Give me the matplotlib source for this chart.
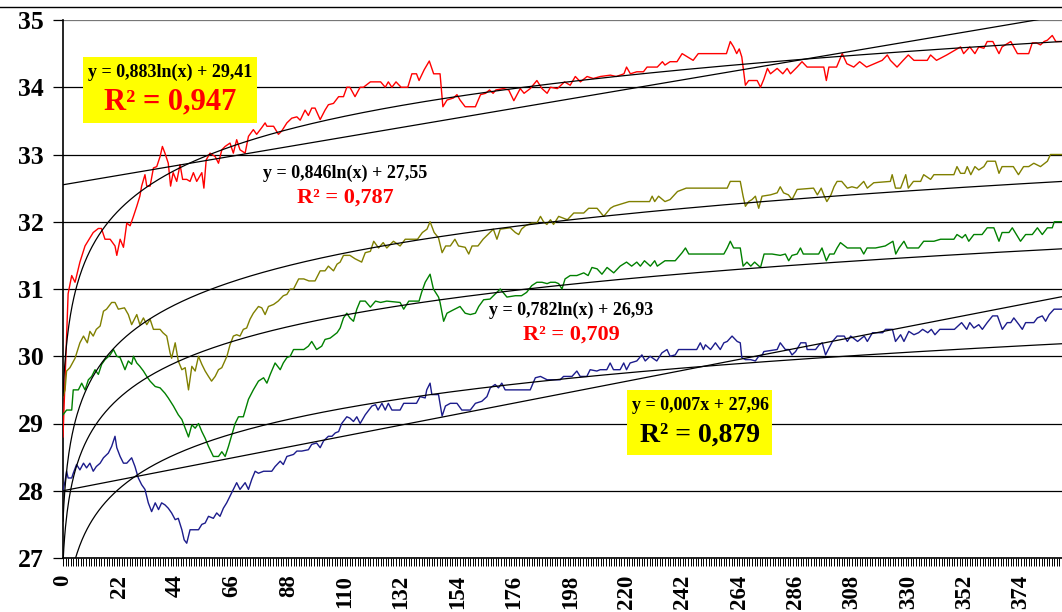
import numpy as np
import matplotlib
matplotlib.use("Agg")
import matplotlib.pyplot as plt
from matplotlib.ticker import MultipleLocator
from matplotlib.patches import Rectangle
from matplotlib.lines import Line2D

# ---------------- data ----------------
red_x = [0, 2, 3.4, 4.7, 6.6, 8.6, 10.5, 11.8, 13.8, 15, 16.4, 18.4, 20.3, 21, 22.3, 23.6, 24.9, 26.2, 27.5, 28.8,
         30, 30.7, 32, 32.7, 34, 35.3, 36.6, 37.9, 38.8, 39.8, 41.1, 42, 43, 44.4, 45.7, 46.7, 48.3, 49.6, 50.9, 52.2,
         54.2, 55, 55.9, 57.4, 59.4, 60.7, 62, 63.3, 65.2, 66.5, 67.8, 69.1, 71.1, 72.4, 74.3, 75.6, 77.6, 78.9, 79.6,
         82.2, 84.1, 85.4, 87.4, 89.3, 91.3, 92.6, 94.5, 95.8, 97.1, 98.4, 100.4, 102.3, 103.6, 105.6, 107.6, 109.5,
         110.8, 112, 114, 116, 117.3, 120, 124, 125.8, 127, 128.4, 130, 132, 134.6, 136.2, 138, 139, 141, 143, 144.7,
         147.2, 148.3, 149.9, 152.4, 153.8, 155, 157, 161, 163, 165, 166.5, 167.9, 169, 172, 174, 176, 178.5, 180,
         182.4, 185, 187, 189, 190.3, 193, 195.8, 198, 200, 202, 204.6, 207, 209.8, 213.7, 216, 219, 220, 221.5, 224,
         226.6, 228, 232, 234, 235, 237, 239.7, 241.7, 246, 248, 252.7, 259, 260.5, 261.8, 263, 264, 265, 266.4, 267.7,
         271, 272.3, 273.6, 275, 276.2, 278.8, 281, 282.7, 284, 286.6, 288.5, 290.5, 297, 298, 299, 302, 304.2, 306,
         308.7, 311, 313.7, 319.8, 321.8, 323, 325.6, 328, 330, 332.2, 337.4, 338.7, 341, 345, 350.4, 351.6, 354, 356,
         357.5, 359.5, 360.8, 363, 365.4, 366.6, 370, 372.6, 377, 378.4, 380, 381.6, 383, 384.3, 386.2, 387.6, 390]
red_y = [28.8, 30.93, 31.2, 31.1, 31.4, 31.64, 31.76, 31.84, 31.9, 31.9, 31.74, 31.74, 31.64, 31.5, 31.74, 31.62, 31.98,
         31.94, 32.08, 32.23, 32.38, 32.53, 32.7, 32.53, 32.53, 32.8, 32.82, 32.97, 33.12, 33.02, 32.87, 32.53, 32.73,
         32.6, 32.85, 32.63, 32.63, 32.6, 32.73, 32.6, 32.73, 32.5, 32.92, 33.02, 32.97, 32.87, 33.07, 33.12, 33.17,
         33.02, 33.22, 33.07, 33.02, 33.27, 33.37, 33.3, 33.4, 33.47, 33.42, 33.42, 33.3, 33.35, 33.47, 33.54, 33.56,
         33.51, 33.66, 33.58, 33.69, 33.69, 33.52, 33.66, 33.74, 33.76, 33.86, 33.86, 34.0, 34.0, 33.86, 34.0, 34.0,
         34.08, 34.08, 34.0, 34.08, 34.0, 34.08, 34.0, 34.0, 34.2, 34.2, 34.1, 34.26, 34.39, 34.2, 34.2, 33.71, 33.81,
         33.84, 33.89, 33.81, 33.71, 33.71, 33.89, 33.91, 33.96, 33.91, 33.96, 33.98, 33.96, 33.8, 33.98, 33.91, 33.98,
         34.1, 33.98, 33.91, 34.0, 33.98, 34.08, 34.03, 34.16, 34.08, 34.16, 34.13, 34.16, 34.18, 34.16, 34.2, 34.3,
         34.2, 34.23, 34.23, 34.3, 34.3, 34.38, 34.33, 34.38, 34.38, 34.5, 34.4, 34.5, 34.5, 34.5, 34.68, 34.6, 34.5,
         34.57, 34.45, 34.03, 34.1, 34.1, 34.0, 34.12, 34.28, 34.2, 34.28, 34.2, 34.28, 34.2, 34.3, 34.38, 34.3, 34.3,
         34.1, 34.3, 34.3, 34.5, 34.35, 34.3, 34.38, 34.3, 34.4, 34.48, 34.4, 34.3, 34.4, 34.48, 34.4, 34.4, 34.48,
         34.4, 34.48, 34.6, 34.5, 34.6, 34.5, 34.6, 34.58, 34.68, 34.68, 34.5, 34.6, 34.68, 34.5, 34.5, 34.66, 34.66,
         34.63, 34.68, 34.7, 34.77, 34.68, 34.68]

olive_x = [0, 0.8, 1.4, 2.7, 4.7, 6.6, 8, 9.5, 10.5, 11.8, 13, 14.5, 15.8, 17, 19, 20.3, 21.6, 24, 25.5, 26.8, 28.8, 30,
           31.4, 32.7, 34, 35.3, 37.9, 39, 40.5, 41.8, 42.4, 43.8, 45, 46.4, 47.7, 49, 50.3, 51.6, 52.9, 54.2, 55.5,
           56.8, 58, 59.4, 60.7, 62, 64, 65.2, 66.5, 67.8, 69.1, 70.4, 71.7, 73, 74.3, 76.3, 77.6, 78.9, 80.2, 82.2, 84,
           86, 87.4, 88.7, 90, 92, 94, 96, 97.1, 98.4, 100.4, 102.3, 103.6, 105.6, 107, 108.2, 109.5, 112, 114, 116.6,
           118, 120, 121.3, 123.2, 125, 126.4, 129, 131.6, 133.6, 138.4, 140.3, 142.1, 143.3, 144.9, 146.6, 148, 149.4,
           151.2, 153, 154.4, 157, 158.4, 159.7, 162, 164, 166.7, 168, 169.4, 170.7, 174.6, 176.6, 177.9, 179, 180.5,
           183, 185, 186.4, 187.6, 188.9, 190.3, 191.5, 193.5, 196.9, 199.4, 203.3, 205.2, 208.5, 211.1, 213.7, 215,
           221, 224, 229, 230, 231, 232.5, 235, 237, 239.9, 241.9, 243.3, 259.3, 260.5, 264.4, 265.5, 266.4, 267.7,
           269, 270.3, 271.6, 272.9, 276.2, 278.8, 280, 281.3, 283.2, 284.6, 286.6, 293, 294.5, 296, 297, 298.2, 299.8,
           301, 302.2, 304, 306.2, 308, 310, 312.6, 314, 316.5, 323, 323.7, 325, 327, 329, 330, 332, 334.8, 336, 338.7,
           340, 342.6, 347.8, 349, 350.4, 352, 353, 354.4, 356, 357.5, 359.5, 360.8, 364, 365.4, 366.6, 371, 373, 375,
           377, 379, 381.6, 384.3, 385.5, 390]
olive_y = [29.4, 29.5, 29.78, 29.83, 29.97, 30.2, 30.3, 30.2, 30.37, 30.3, 30.4, 30.45, 30.67, 30.7, 30.8, 30.8, 30.7,
           30.72, 30.62, 30.47, 30.62, 30.47, 30.57, 30.47, 30.55, 30.4, 30.4, 30.35, 30.3, 30.05, 29.97, 30.2, 29.93,
           29.8, 29.83, 29.5, 29.85, 29.78, 30.0, 29.88, 29.78, 29.7, 29.63, 29.7, 29.8, 29.83, 30.0, 30.17, 30.3,
           30.32, 30.3, 30.4, 30.42, 30.55, 30.64, 30.74, 30.72, 30.62, 30.74, 30.77, 30.82, 30.9, 30.92, 31.0, 31.0,
           31.15, 31.15, 31.12, 31.12, 31.12, 31.27, 31.27, 31.34, 31.27, 31.37, 31.4, 31.5, 31.5, 31.45, 31.4, 31.54,
           31.56, 31.71, 31.61, 31.69, 31.61, 31.71, 31.64, 31.74, 31.74, 31.84, 31.89, 32.0, 31.84, 31.76, 31.54,
           31.64, 31.64, 31.74, 31.64, 31.62, 31.52, 31.64, 31.64, 31.74, 31.84, 31.89, 31.74, 31.89, 31.91, 31.84,
           31.81, 31.89, 31.94, 31.98, 31.98, 32.08, 32.0, 31.96, 32.03, 31.96, 32.08, 32.03, 32.13, 32.13, 32.2, 32.2,
           32.08, 32.2, 32.23, 32.3, 32.3, 32.3, 32.38, 32.3, 32.38, 32.3, 32.33, 32.45, 32.48, 32.5, 32.5, 32.6, 32.6,
           32.38, 32.23, 32.3, 32.33, 32.38, 32.2, 32.38, 32.4, 32.43, 32.52, 32.43, 32.4, 32.33, 32.48, 32.5, 32.4,
           32.5, 32.4, 32.3, 32.4, 32.52, 32.6, 32.6, 32.5, 32.52, 32.5, 32.6, 32.5, 32.58, 32.6, 32.7, 32.5, 32.5, 32.7,
           32.5, 32.6, 32.6, 32.7, 32.63, 32.7, 32.7, 32.7, 32.82, 32.72, 32.72, 32.82, 32.7, 32.82, 32.77, 32.82, 32.9,
           32.9, 32.72, 32.82, 32.82, 32.7, 32.82, 32.82, 32.87, 32.82, 32.9, 33.0, 33.0]

green_x = [0, 1.4, 3.4, 4, 6, 7.3, 8.6, 9.9, 11.2, 12.5, 13.8, 15.1, 16.4, 18.4, 19.7, 21, 22.3, 24.2, 25.5, 26.8, 27.5,
           28.8, 30, 31.4, 32.7, 34, 36, 37.9, 39.8, 41.1, 43.1, 45, 46.4, 47.7, 49, 50.3, 51.6, 52.9, 54.2, 55.5, 56.8,
           58.7, 60.7, 62, 63.3, 64.6, 65.9, 67.2, 68.5, 70.4, 72.4, 74.3, 76.3, 78.3, 79.6, 80.9, 82.8, 84.8, 86, 87.4,
           88.7, 90, 92, 94, 95.8, 97.1, 99, 101, 102.3, 104.3, 107, 108.2, 109.5, 110.8, 112, 113.4, 114.7, 116, 118,
           120, 122, 124, 126.4, 131.6, 133, 135, 139, 140, 141.4, 143.3, 144.6, 146.6, 147.2, 148.6, 149.9, 152.4, 155,
           157, 159, 161, 162.3, 164.2, 166.7, 169.4, 170.7, 173.3, 176.6, 179, 181, 183, 185, 187, 189, 190.3, 192.2,
           193.5, 194.8, 196, 198, 200.6, 203.3, 205, 206.5, 208.5, 210.4, 212.4, 215, 217.5, 220, 222, 224, 225.4, 227,
           229.3, 231, 232, 235, 239, 241.7, 243, 244.3, 246, 258, 259.3, 260.5, 261.8, 264.4, 265.5, 267, 268.5, 270,
           272.3, 273.7, 276.8, 280, 282, 283.3, 284.6, 286.6, 287.9, 289, 295, 296.3, 298, 299.3, 301, 302.2, 303.5,
           306.2, 311.3, 312.6, 313.9, 317.2, 321, 324, 325.1, 326.4, 328.3, 329.6, 334, 336, 340, 342.6, 347.8, 349,
           351, 352.3, 353.6, 355.6, 358.8, 360.8, 363.4, 365.4, 366.6, 369.3, 370.6, 372.5, 373.8, 375.8, 378.4, 380.4,
           382.3, 384.3, 386.2, 387, 390]
green_y = [29.13, 29.2, 29.2, 29.5, 29.5, 29.6, 29.5, 29.65, 29.7, 29.8, 29.73, 29.88, 29.95, 30.02, 30.1, 30.0, 29.98,
           29.8, 29.93, 29.88, 30.0, 29.9, 29.85, 29.78, 29.7, 29.63, 29.55, 29.53, 29.45, 29.38, 29.26, 29.13, 29.06,
           28.93, 28.8, 28.98, 28.93, 29.0, 28.88, 28.78, 28.66, 28.51, 28.51, 28.58, 28.51, 28.66, 28.83, 29.0, 29.1,
           29.1, 29.36, 29.5, 29.63, 29.68, 29.6, 29.73, 29.9, 29.8, 29.9, 29.98, 30.0, 30.1, 30.1, 30.1, 30.15, 30.22,
           30.1, 30.15, 30.25, 30.27, 30.35, 30.42, 30.57, 30.64, 30.57, 30.52, 30.7, 30.82, 30.82, 30.73, 30.82, 30.8,
           30.82, 30.8, 30.7, 30.82, 30.82, 30.95, 31.1, 31.22, 31.0, 30.88, 30.8, 30.52, 30.64, 30.69, 30.74, 30.64,
           30.62, 30.64, 30.74, 30.84, 30.85, 30.95, 31.0, 30.88, 30.9, 30.9, 30.95, 31.05, 31.1, 31.1, 31.08, 31.1,
           31.1, 31.08, 31.0, 31.15, 31.2, 31.2, 31.24, 31.2, 31.32, 31.3, 31.22, 31.32, 31.24, 31.34, 31.4, 31.34,
           31.4, 31.34, 31.42, 31.34, 31.42, 31.34, 31.42, 31.42, 31.54, 31.61, 31.52, 31.52, 31.52, 31.61, 31.71,
           31.61, 31.61, 31.34, 31.4, 31.34, 31.4, 31.32, 31.52, 31.52, 31.5, 31.52, 31.42, 31.5, 31.52, 31.61, 31.52,
           31.52, 31.61, 31.42, 31.52, 31.52, 31.61, 31.69, 31.61, 31.61, 31.52, 31.61, 31.61, 31.64, 31.71, 31.52,
           31.61, 31.71, 31.61, 31.61, 31.71, 31.71, 31.74, 31.74, 31.81, 31.76, 31.81, 31.71, 31.81, 31.81, 31.91,
           31.91, 31.71, 31.84, 31.84, 31.91, 31.79, 31.71, 31.81, 31.81, 31.91, 31.81, 31.91, 31.91, 32.0, 32.0]

blue_x = [0, 0.8, 1.4, 2, 3.4, 4, 5.3, 6.6, 8, 9.2, 10.5, 11.8, 13, 14.5, 15.8, 17.7, 19, 20.3, 21, 22.3, 23.6, 24.9,
          26.8, 28.1, 29.4, 30.7, 32, 33.3, 34.6, 36, 37.3, 38.5, 39.8, 41.1, 42.4, 43.8, 45, 46.4, 47.3, 48.3, 49.6,
          50.9, 52.9, 54.2, 55.5, 56.8, 58.7, 60, 61.3, 62.6, 63.9, 65.2, 66.5, 67.8, 69.1, 71.1, 72.4, 73.7, 75, 76.3,
          78.3, 81.5, 82.8, 84.8, 86, 87.4, 90, 91.3, 93.2, 95.8, 97.1, 99, 100.4, 101.7, 103.6, 105, 106.3, 107.6,
          108.8, 110.8, 112, 113.4, 114.7, 116, 118, 120.6, 122, 123, 124.5, 125.8, 127, 128.4, 131.6, 133, 138, 139.4,
          141.4, 142, 143.3, 144, 146.6, 148, 149.3, 151.2, 153.8, 155.7, 159, 161, 163.5, 165.5, 166.8, 168.7, 170,
          171.3, 172.6, 174.6, 182.4, 184.4, 186.4, 189, 191.5, 194.1, 195.4, 198.7, 200.6, 201.9, 204.5, 205.8, 208.4,
          209.7, 212.3, 213.6, 214.9, 217.5, 218.9, 220, 221.4, 224, 226, 227.3, 229.2, 231.8, 233.8, 235.8, 237, 239,
          240.3, 247.4, 248.8, 250, 250.8, 252.8, 254.7, 256.6, 258, 259.3, 261.2, 263.2, 264.4, 265, 266.4, 268.4,
          270.3, 271.6, 273, 273.6, 278.8, 280, 282, 283.4, 284.6, 286, 288, 290, 290.5, 293.8, 295.2, 296.4, 297.7,
          299, 300.4, 302.2, 305, 306.2, 307.5, 310.2, 312.8, 314, 316, 320, 321.1, 323.8, 325, 327, 328.3, 330.2,
          332.2, 334, 335.6, 337.6, 339, 340.4, 342.3, 348, 350.8, 352.8, 354, 355.6, 357.5, 358.9, 360.8, 362.9,
          364.8, 366.7, 368.6, 370, 371.2, 373.2, 374.5, 375.8, 379, 380.4, 382.3, 383.6, 385, 386.9, 390]
blue_y = [28.0, 28.14, 28.29, 28.19, 28.19, 28.26, 28.39, 28.31, 28.41, 28.34, 28.41, 28.29, 28.36, 28.41, 28.49, 28.56,
          28.66, 28.81, 28.64, 28.51, 28.41, 28.41, 28.49, 28.36, 28.19, 28.09, 28.02, 27.82, 27.69, 27.82, 27.72,
          27.82, 27.79, 27.74, 27.67, 27.57, 27.59, 27.42, 27.27, 27.22, 27.42, 27.42, 27.42, 27.5, 27.52, 27.62, 27.59,
          27.67, 27.62, 27.74, 27.82, 27.92, 28.02, 28.12, 28.02, 28.12, 28.02, 28.17, 28.29, 28.26, 28.29, 28.29,
          28.36, 28.44, 28.39, 28.51, 28.54, 28.59, 28.59, 28.61, 28.69, 28.71, 28.64, 28.74, 28.81, 28.81, 28.86,
          28.88, 29.0, 29.1, 29.08, 29.03, 29.1, 29.0, 29.13, 29.26, 29.28, 29.2, 29.3, 29.2, 29.3, 29.2, 29.2, 29.3,
          29.3, 29.4, 29.38, 29.5, 29.6, 29.43, 29.43, 29.11, 29.26, 29.3, 29.3, 29.2, 29.2, 29.3, 29.33, 29.4, 29.53,
          29.58, 29.53, 29.6, 29.5, 29.5, 29.5, 29.68, 29.7, 29.65, 29.65, 29.65, 29.7, 29.7, 29.78, 29.7, 29.7, 29.8,
          29.78, 29.8, 29.8, 29.9, 29.8, 29.8, 29.9, 29.8, 29.9, 29.93, 30.02, 29.93, 30.0, 29.93, 30.05, 30.1, 30.0,
          30.02, 30.1, 30.1, 30.2, 30.1, 30.17, 30.1, 30.2, 30.1, 30.2, 30.22, 30.3, 30.22, 30.2, 29.98, 29.95, 29.95,
          29.93, 30.0, 30.02, 30.07, 30.1, 30.2, 30.1, 30.1, 30.02, 30.07, 30.2, 30.2, 30.1, 30.1, 30.17, 30.2, 30.02,
          30.12, 30.22, 30.3, 30.3, 30.22, 30.3, 30.22, 30.3, 30.22, 30.35, 30.35, 30.4, 30.4, 30.22, 30.32, 30.22,
          30.37, 30.32, 30.35, 30.4, 30.35, 30.4, 30.32, 30.4, 30.4, 30.5, 30.4, 30.5, 30.42, 30.47, 30.4, 30.5, 30.6,
          30.6, 30.4, 30.5, 30.5, 30.57, 30.47, 30.4, 30.5, 30.5, 30.57, 30.6, 30.52, 30.62, 30.7, 30.7]

# trend lines: (a, b) for y = a*ln(x) + b, with x counted from 1 at the first point
log_red = (0.883, 29.41)
log_olive = (0.846, 27.55)
log_green = (0.782, 26.93)
log_blue = (0.76, 25.65)
# linear trends y = b + m*pos (as drawn)
lin_red = (32.55, 0.00645)
lin_blue = (28.0, 0.0074)

y_ticks = [27, 28, 29, 30, 31, 32, 33, 34, 35]
x_tick_step = 22

# ---------------- plot ----------------
plt.rcParams['font.family'] = ['Liberation Serif', 'DejaVu Serif']
plt.rcParams['font.weight'] = 'bold'

fig = plt.figure(figsize=(10.62, 6.12), dpi=100)
ax = fig.add_axes([63 / 1062, 1 - 558 / 612, 1 - 63 / 1062, (558 - 20) / 612])

for yv in y_ticks:
    ax.axhline(yv, color='#777777' if yv == 35 else 'black', lw=0.9, zorder=1)

lw = 1.0
ax.plot(red_x, red_y, color='#ff0000', lw=lw, zorder=3)
ax.plot(olive_x, olive_y, color='#808000', lw=lw, zorder=3)
ax.plot(green_x, green_y, color='#008000', lw=lw, zorder=3)
ax.plot(blue_x, blue_y, color='#1c1c8c', lw=lw, zorder=3)

pos = np.linspace(0, 390, 1200)
for a, b in (log_red, log_olive, log_green, log_blue):
    ax.plot(pos, a * np.log(pos + 1) + b, color='black', lw=0.9, zorder=4)
for b, m in (lin_red, lin_blue):
    ax.plot(pos, b + m * pos, color='black', lw=0.9, zorder=4)

ax.set_xlim(0, 390)
ax.set_ylim(27, 35)
ax.set_yticks(y_ticks)
ax.xaxis.set_major_locator(MultipleLocator(x_tick_step))
ax.xaxis.set_minor_locator(MultipleLocator(1))
ax.tick_params(axis='x', which='both', direction='out', length=6, width=0.7, labelsize=16.5,
               labelrotation=90, pad=6)
ax.tick_params(axis='y', which='major', direction='out', length=7, width=0.9, labelsize=18.5, pad=7)
for lab in ax.get_xticklabels() + ax.get_yticklabels():
    lab.set_fontweight('bold')

for s in ('top', 'right'):
    ax.spines[s].set_visible(False)
ax.spines['left'].set_linewidth(1.2)
ax.spines['bottom'].set_linewidth(1.2)

# yellow boxes (axes fraction)
def afx(px):
    return (px - 63) / (1062 - 63)

def afy(py):
    return (558 - py) / (558 - 20)

ax.add_patch(Rectangle((afx(83), afy(123)), afx(257) - afx(83), afy(57) - afy(123),
                       transform=ax.transAxes, facecolor='#ffff00', edgecolor='none', zorder=6))
ax.add_patch(Rectangle((afx(627), afy(455)), afx(772) - afx(627), afy(390) - afy(455),
                       transform=ax.transAxes, facecolor='#ffff00', edgecolor='none', zorder=6))

tk = dict(transform=ax.transAxes, ha='center', va='center', fontweight='bold', zorder=7)
ax.text(afx(170), afy(72), 'y = 0,883ln(x) + 29,41', fontsize=13, color='black', **tk)
ax.text(afx(170), afy(102), 'R² = 0,947', fontsize=22, color='#ff0000', **tk)
ax.text(afx(345), afy(173), 'y = 0,846ln(x) + 27,55', fontsize=13, color='black', **tk)
ax.text(afx(345), afy(198), 'R² = 0,787', fontsize=16, color='#ff0000', **tk)
ax.text(afx(571), afy(310), 'y = 0,782ln(x) + 26,93', fontsize=13, color='black', **tk)
ax.text(afx(571), afy(335), 'R² = 0,709', fontsize=16, color='#ff0000', **tk)
ax.text(afx(700), afy(406), 'y = 0,007x + 27,96', fontsize=13, color='black', **tk)
ax.text(afx(700), afy(435), 'R² = 0,879', fontsize=20, color='black', **tk)

fig.add_artist(Line2D([0, 1], [1 - 7 / 612, 1 - 7 / 612], color='black', lw=1.0, transform=fig.transFigure))

fig.savefig('out.png', dpi=100)
